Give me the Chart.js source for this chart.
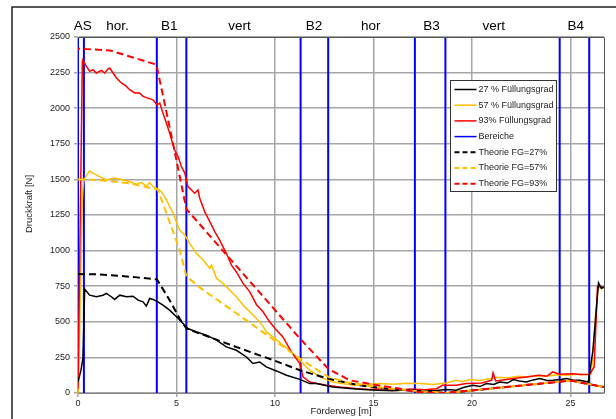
<!DOCTYPE html>
<html>
<head>
<meta charset="utf-8">
<script src="https://cdn.jsdelivr.net/npm/chart.js"></script>
<style>
  html, body { margin: 0; padding: 0; background: #fff; }
  #wrap { width: 616px; height: 419px; position: relative; }
</style>
</head>
<body>
<div id="wrap"><canvas id="chart"></canvas></div>
<script>
// measured: 27 % Füllungsgrad
const fg27X = [0, 0.15, 0.25, 0.34, 0.59, 0.93, 1.27, 1.44, 1.69, 1.86, 2.12, 2.46, 2.79, 3.05, 3.3, 3.47, 3.64, 3.81, 4.06, 4.31, 4.65, 5.0, 5.33, 5.58, 6.01, 6.52, 7.03, 7.53, 8.04, 8.55, 8.88, 9.22, 9.56, 10.07, 10.58, 11.26, 11.76, 12.1, 12.94, 13.8, 14.5, 15.2, 16, 16.8, 17.5, 18.2, 18.7, 19.2, 19.6, 20.05, 20.4, 20.73, 21.1, 21.4, 21.8, 22.1, 22.4, 22.77, 23.1, 23.45, 23.8, 24.1, 24.5, 24.8, 25.1, 25.47, 25.9, 26.14, 26.42, 26.57, 26.7];
const fg27Y = [77, 160, 242, 730, 687, 676, 687, 699, 676, 657, 687, 676, 680, 652, 640, 610, 664, 657, 640, 617, 582, 535, 488, 453, 429, 406, 371, 324, 300, 253, 207, 218, 183, 155, 125, 96, 66, 66, 42, 31, 25, 20, 15, 22, 12, 18, 25, 19, 40, 54, 45, 66, 60, 77, 70, 94, 85, 77, 92, 101, 88, 89, 95, 101, 92, 89, 77, 300, 774, 735, 746];

// measured: 57 % Füllungsgrad
const fg57X = [0.02, 0.2, 0.25, 0.3, 0.45, 0.59, 0.76, 1.1, 1.44, 1.86, 2.28, 2.62, 2.96, 3.22, 3.47, 3.64, 3.81, 4.06, 4.23, 4.49, 4.82, 5.16, 5.42, 5.67, 6.01, 6.35, 6.69, 6.78, 7.03, 7.36, 7.7, 8.04, 8.38, 8.72, 9.06, 9.39, 9.56, 9.9, 10.4, 10.75, 11.09, 11.42, 11.76, 12.27, 12.94, 13.96, 14.6, 15.3, 16, 16.7, 17.4, 18, 18.7, 19.2, 19.5, 19.9, 20.4, 20.9, 21.3, 21.8, 22.3, 22.8, 23.3, 23.8, 24.3, 24.8, 25.3, 25.8, 26.06, 26.14, 26.25, 26.4, 26.57, 26.7];
const fg57Y = [0, 1300, 1426, 1500, 1530, 1560, 1544, 1520, 1497, 1509, 1497, 1485, 1466, 1478, 1454, 1478, 1449, 1431, 1414, 1356, 1262, 1145, 1110, 1051, 981, 934, 875, 898, 805, 770, 723, 676, 617, 570, 523, 470, 429, 394, 336, 300, 253, 207, 160, 113, 77, 54, 60, 66, 62, 68, 66, 60, 70, 89, 80, 95, 88, 100, 110, 105, 118, 112, 122, 118, 128, 125, 132, 128, 136, 300, 520, 740, 735, 740];

// measured: 93% Füllungsgrad
const fg93X = [0, 0.22, 0.25, 0.43, 0.59, 0.76, 0.93, 1.19, 1.36, 1.52, 1.61, 1.78, 1.95, 2.2, 2.46, 2.62, 2.88, 3.13, 3.3, 3.55, 3.81, 4.01, 4.15, 4.31, 4.49, 4.65, 4.9, 5.08, 5.25, 5.42, 5.58, 5.76, 5.92, 6.09, 6.18, 6.43, 6.69, 6.94, 7.19, 7.53, 7.79, 8.04, 8.38, 8.72, 9.06, 9.39, 9.73, 10.0, 10.4, 10.83, 11.26, 11.42, 11.76, 12.6, 13.3, 14.1, 14.8, 15.5, 16.2, 16.9, 17.6, 18.2, 18.5, 19.2, 19.7, 20.5, 21.0, 21.07, 21.2, 21.75, 22.3, 22.77, 23.4, 23.8, 24.1, 24.45, 25.1, 25.5, 25.97, 26.2, 26.37, 26.57, 26.7];
const fg93Y = [30, 2330, 2336, 2294, 2259, 2271, 2247, 2266, 2247, 2275, 2282, 2247, 2212, 2177, 2153, 2130, 2107, 2107, 2083, 2071, 2059, 2024, 2036, 1966, 1895, 1825, 1708, 1661, 1590, 1544, 1449, 1426, 1403, 1426, 1368, 1274, 1203, 1133, 1074, 981, 898, 850, 770, 710, 620, 570, 500, 453, 394, 289, 207, 113, 77, 54, 42, 31, 25, 30, 20, 28, 22, 30, 54, 54, 66, 70, 90, 141, 84, 94, 105, 113, 124, 118, 148, 132, 136, 130, 132, 183, 746, 746, 740];

// theory curves
const th27X = [0, 1, 2.1, 3, 4.01, 4.65, 5.16, 5.5, 6.18, 8, 10, 11.26, 12.69, 14.3, 16, 18.7, 25, 26.7];
const th27Y = [835, 833, 823, 812, 798, 652, 523, 453, 418, 325, 226, 160, 101, 54, 25, 0, 87, 42];
const th57X = [0, 0.93, 2.5, 3.98, 4.06, 5.16, 5.5, 6.19, 8.7, 11.26, 12.7, 13.6, 15, 17, 18.7, 25, 26.7];
const th57Y = [1500, 1497, 1475, 1431, 1426, 1004, 820, 740, 495, 242, 113, 77, 45, 15, 0, 87, 42];
const th93X = [0, 1.61, 3.98, 4.82, 5.5, 10.75, 11.26, 12.7, 13.8, 15, 16.3, 17.1, 18.65, 25, 26.7];
const th93Y = [2418, 2406, 2306, 1755, 1292, 464, 383, 170, 89, 59, 31, 7, 0, 87, 42];

// section borders (Bereiche) and the labels above the plot
const bereiche = [0, 0.3, 4, 5.5, 11.3, 12.7, 17.1, 18.65, 24.45, 25.95];
const sectionLabels = ['AS', 'hor.', 'B1', 'vert', 'B2', 'hor', 'B3', 'vert', 'B4'];
const sectionAt = [0.24, 2.0, 4.63, 8.2, 11.98, 14.86, 17.95, 21.1, 25.26];

const xMin = 0, xMax = 26.7, xStep = 5;
const yMin = 0, yMax = 2500, yStep = 250;

const FONT = "'Liberation Sans', Arial, sans-serif";

function toPoints(xs, ys) {
  const n = Math.min(xs.length, ys.length);
  const pts = [];
  for (let i = 0; i < n; i++) pts.push({x: xs[i], y: ys[i]});
  return pts;
}

const bereichePts = [];
bereiche.forEach(b => {
  bereichePts.push({x: b, y: yMin}, {x: b, y: yMax}, {x: b, y: null});
});

// frame, plot border, section labels, y title
const decor = {
  id: 'decor',
  beforeDraw(chart) {
    const ctx = chart.ctx;
    ctx.save();
    ctx.strokeStyle = '#222';
    ctx.lineWidth = 1.5;
    ctx.beginPath();
    ctx.moveTo(12, chart.height);
    ctx.lineTo(12, 7);
    ctx.lineTo(chart.width, 7);
    ctx.stroke();
    ctx.restore();
  },
  afterDraw(chart) {
    const ctx = chart.ctx;
    const a = chart.chartArea;
    const xs = chart.scales.x;
    ctx.save();
    ctx.strokeStyle = '#555';
    ctx.lineWidth = 1;
    ctx.beginPath();
    ctx.moveTo(a.left, a.top + 0.5);
    ctx.lineTo(a.right + 0.5, a.top + 0.5);
    ctx.lineTo(a.right + 0.5, a.bottom);
    ctx.stroke();

    ctx.fillStyle = '#000';
    ctx.font = '13.5px ' + FONT;
    ctx.textAlign = 'center';
    ctx.textBaseline = 'middle';
    sectionLabels.forEach((t, i) => {
      ctx.fillText(t, xs.getPixelForValue(sectionAt[i]), 26);
    });

    ctx.font = '9.5px ' + FONT;
    ctx.fillStyle = '#222';
    ctx.translate(29, 204);
    ctx.rotate(-Math.PI / 2);
    ctx.fillText('Druckkraft [N]', 0, 0);
    ctx.restore();
  }
};

// legend box inside the plot
const boxLegend = {
  id: 'boxLegend',
  afterDraw(chart) {
    const ctx = chart.ctx;
    const a = chart.chartArea;
    const left = a.left + 372.5, top = a.top + 43.5, w = 106, h = 111;
    ctx.save();
    ctx.fillStyle = '#fff';
    ctx.fillRect(left, top, w, h);
    ctx.strokeStyle = '#333';
    ctx.lineWidth = 1;
    ctx.strokeRect(left, top, w, h);
    ctx.font = '9px ' + FONT;
    ctx.textBaseline = 'middle';
    ctx.textAlign = 'left';
    chart.data.datasets.forEach((ds, i) => {
      const y = top + 9 + i * 15.7;
      ctx.strokeStyle = ds.borderColor;
      ctx.lineWidth = ds.borderDash ? 2 : 1.5;
      ctx.setLineDash(ds.borderDash ? [5, 3] : []);
      ctx.beginPath();
      ctx.moveTo(left + 4, y);
      ctx.lineTo(left + 26, y);
      ctx.stroke();
      ctx.setLineDash([]);
      ctx.fillStyle = '#222';
      ctx.fillText(ds.label, left + 28, y);
    });
    ctx.restore();
  }
};

new Chart(document.getElementById('chart'), {
  type: 'line',
  data: {
    datasets: [
      {label: '27 % Füllungsgrad', data: toPoints(fg27X, fg27Y), borderColor: '#000000', borderWidth: 1.5, order: 3},
      {label: '57 % Füllungsgrad', data: toPoints(fg57X, fg57Y), borderColor: '#ffc000', borderWidth: 1.5, order: 5},
      {label: '93% Füllungsgrad', data: toPoints(fg93X, fg93Y), borderColor: '#ff0000', borderWidth: 1.5, order: 4},
      {label: 'Bereiche', data: bereichePts, borderColor: '#0000ff', borderWidth: 2, order: 6, spanGaps: false},
      {label: 'Theorie FG=27%', data: toPoints(th27X, th27Y), borderColor: '#000000', borderWidth: 2, borderDash: [7, 4], order: 2},
      {label: 'Theorie FG=57%', data: toPoints(th57X, th57Y), borderColor: '#ffc000', borderWidth: 2, borderDash: [7, 4], order: 1},
      {label: 'Theorie FG=93%', data: toPoints(th93X, th93Y), borderColor: '#ff0000', borderWidth: 2, borderDash: [7, 4], borderDashOffset: 5, order: 0}
    ]
  },
  options: {
    responsive: true,
    maintainAspectRatio: false,
    animation: false,
    layout: {padding: {left: 0, top: 37, right: 12, bottom: 0}},
    elements: {point: {radius: 0}, line: {tension: 0, fill: false}},
    plugins: {legend: {display: false}, tooltip: {enabled: false}},
    scales: {
      x: {
        type: 'linear',
        min: xMin, max: xMax,
        afterFit(scale) { scale.height = 26; },
        ticks: {stepSize: xStep, includeBounds: false, padding: 1, color: '#222', font: {family: FONT, size: 9}, maxRotation: 0},
        grid: {color: '#a6a6a6', lineWidth: 1.5, tickLength: 4},
        border: {color: '#888'},
        title: {display: true, text: 'Förderweg [m]', color: '#222', font: {family: FONT, size: 9.5}, padding: {top: 0, bottom: 2}}
      },
      y: {
        min: yMin, max: yMax,
        afterFit(scale) { scale.width = 78; },
        ticks: {stepSize: yStep, padding: 4, color: '#222', font: {family: FONT, size: 9}, callback: v => String(v)},
        grid: {color: '#a6a6a6', lineWidth: 1.5, tickLength: 4},
        border: {color: '#888'}
      }
    }
  },
  plugins: [decor, boxLegend]
});
</script>
</body>
</html>
